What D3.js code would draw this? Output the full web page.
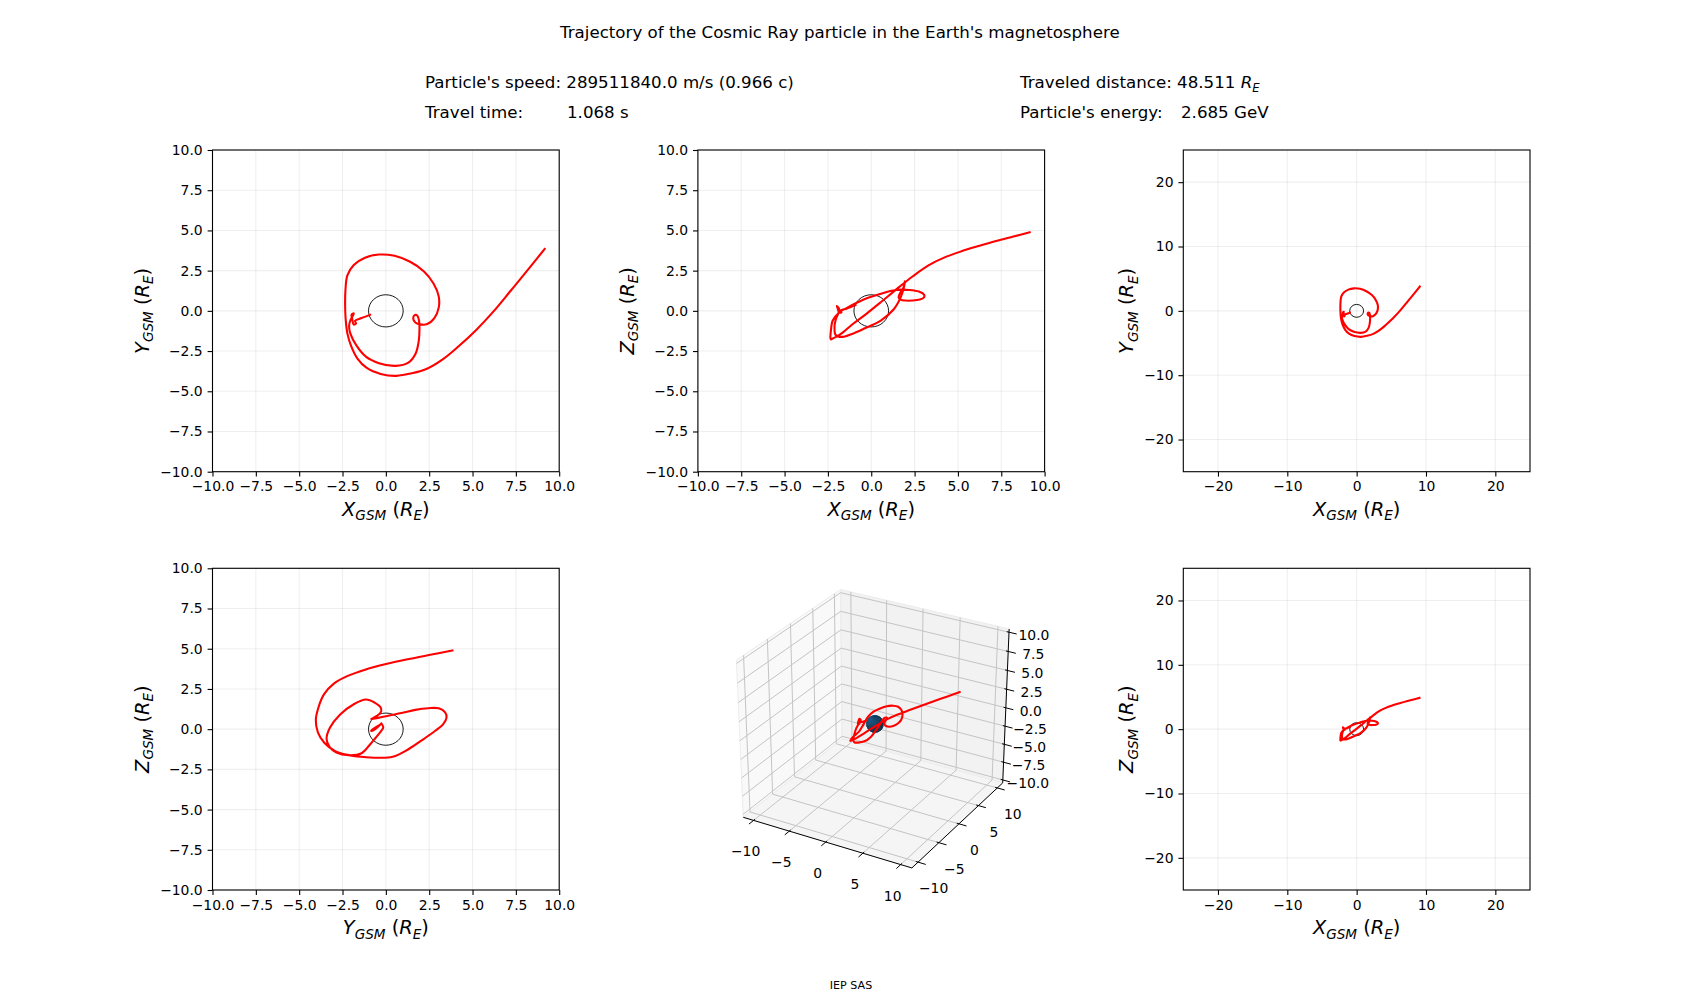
<!DOCTYPE html>
<html><head><meta charset="utf-8">
<script src="https://cdn.jsdelivr.net/npm/d3@7"></script>
<style>
body{margin:0;background:#fff}
svg text{font-family:"DejaVu Sans",sans-serif;fill:#000}
</style></head>
<body><svg id="c" width="1700" height="1000"></svg>
<script>
// ---------------- data ----------------
const trajX=[9.20,8.20,7.20,6.20,5.20,4.20,3.30,2.40,1.50,0.60,-0.30,-1.10,-1.65,-2.00,-2.22,-2.32,-2.35,-2.33,-2.22,-1.85,-1.20,-0.40,0.50,1.40,2.20,2.75,3.05,3.05,2.80,2.35,1.98,1.70,1.58,1.66,1.82,1.92,1.94,1.90,1.72,1.30,0.55,-0.40,-1.15,-1.70,-2.05,-2.12,-2.05,-1.90,-1.85,-1.98,-1.95,-1.85,-1.72,-1.78,-1.40,-0.85];
const trajY=[3.90,2.56,1.25,-0.05,-1.20,-2.20,-3.00,-3.58,-3.88,-4.04,-3.92,-3.55,-2.95,-2.20,-1.40,-0.50,0.40,1.30,2.20,2.85,3.30,3.50,3.42,3.05,2.45,1.70,0.90,0.20,-0.45,-0.84,-0.84,-0.72,-0.48,-0.27,-0.30,-0.65,-1.15,-1.85,-2.65,-3.22,-3.42,-3.25,-2.85,-2.15,-1.40,-0.95,-0.60,-0.30,-0.15,-0.25,-0.45,-0.85,-0.78,-0.62,-0.45,-0.22];
const trajZ=[4.90,4.62,4.34,4.03,3.70,3.31,2.83,2.15,1.38,0.58,-0.20,-0.85,-1.35,-1.60,-1.72,-1.78,-1.72,-1.25,-0.60,-0.10,0.30,0.72,1.05,1.30,1.30,1.20,1.00,0.85,0.70,0.64,0.64,0.70,0.85,1.10,1.35,1.65,1.84,1.55,0.90,0.10,-0.60,-1.10,-1.45,-1.62,-1.50,-1.00,-0.55,-0.15,0.10,0.30,0.20,-0.10,-0.10,0.00,0.15,0.40];
const earthRadius=1;
const limNear=[-10,10], limFar=[-25,25];
const ticksNear=[-10,-7.5,-5,-2.5,0,2.5,5,7.5,10];
const ticksFar=[-20,-10,0,10,20];
const lim3X=[-11,11], lim3Y=[-11,11], lim3Z=[-10,10];
const ticks3XY=[-10,-5,0,5,10];
const ticks3Z=[-10,-7.5,-5,-2.5,0,2.5,5,7.5,10];
const titleText="Trajectory of the Cosmic Ray particle in the Earth's magnetosphere";
const infoSpeed="Particle's speed: 289511840.0 m/s (0.966 c)";
const infoTimeLabel="Travel time:", infoTimeValue="1.068 s";
const infoDistLabel="Traveled distance: 48.511 ";
const infoEnergyLabel="Particle's energy:", infoEnergyValue="2.685 GeV";
const footerText="IEP SAS";

// ---------------- layout ----------------
const svg=d3.select('#c');
const FS_TICK=13.9, FS_LAB=19.4, FS_HEAD=16.67;
const cols=[212.5,697.9,1183.3], rows=[150,568.3], PW=346.7, PH=321.7;
const traj={x:trajX,y:trajY,z:trajZ};
const N=trajX.length;

// header
svg.append('text').attr('x',560).attr('y',38).attr('font-size',FS_HEAD).text(titleText);
svg.append('text').attr('x',425).attr('y',88).attr('font-size',FS_HEAD).text(infoSpeed);
svg.append('text').attr('x',425).attr('y',118).attr('font-size',FS_HEAD).text(infoTimeLabel);
svg.append('text').attr('x',567).attr('y',118).attr('font-size',FS_HEAD).text(infoTimeValue);
const dT=svg.append('text').attr('x',1020).attr('y',88).attr('font-size',FS_HEAD);
dT.append('tspan').text(infoDistLabel);
dT.append('tspan').attr('font-style','italic').text('R');
dT.append('tspan').attr('font-style','italic').attr('font-size',FS_HEAD*0.7).attr('dy',3.5).text('E');
svg.append('text').attr('x',1020).attr('y',118).attr('font-size',FS_HEAD).text(infoEnergyLabel);
svg.append('text').attr('x',1181).attr('y',118).attr('font-size',FS_HEAD).text(infoEnergyValue);
svg.append('text').attr('x',851).attr('y',989).attr('font-size',11.1).attr('text-anchor','middle').text(footerText);

function mathLabel(t,letter,fs){
  const sh=fs*0.22;
  t.append('tspan').attr('font-style','italic').text(letter);
  t.append('tspan').attr('font-style','italic').attr('font-size',fs*0.7).attr('dy',sh).text('GSM');
  t.append('tspan').attr('dy',-sh).text(' (');
  t.append('tspan').attr('font-style','italic').text('R');
  t.append('tspan').attr('font-style','italic').attr('font-size',fs*0.7).attr('dy',sh).text('E');
  t.append('tspan').attr('dy',-sh).text(')');
}

const panels=[
 {c:0,r:0,h:'x',v:'y',lim:limNear,ticks:ticksNear,fmt:d3.format('.1f'),hl:'X',vl:'Y',ylx:-63.5},
 {c:1,r:0,h:'x',v:'z',lim:limNear,ticks:ticksNear,fmt:d3.format('.1f'),hl:'X',vl:'Z',ylx:-64},
 {c:2,r:0,h:'x',v:'y',lim:limFar,ticks:ticksFar,fmt:d3.format('d'),hl:'X',vl:'Y',ylx:-50},
 {c:0,r:1,h:'y',v:'z',lim:limNear,ticks:ticksNear,fmt:d3.format('.1f'),hl:'Y',vl:'Z',ylx:-63.5},
 {c:2,r:1,h:'x',v:'z',lim:limFar,ticks:ticksFar,fmt:d3.format('d'),hl:'X',vl:'Z',ylx:-50},
];

panels.forEach((p,i)=>{
  const L=cols[p.c], T=rows[p.r];
  const xs=d3.scaleLinear().domain(p.lim).range([L,L+PW]);
  const ys=d3.scaleLinear().domain(p.lim).range([T+PH,T]);
  const g=svg.append('g');
  const cid='clip'+i;
  svg.append('clipPath').attr('id',cid).append('rect').attr('x',L).attr('y',T).attr('width',PW).attr('height',PH);
  const gg=g.append('g').attr('stroke','#b0b0b0').attr('stroke-opacity',0.2).attr('stroke-width',1.1);
  p.ticks.forEach(t=>{
    gg.append('line').attr('x1',xs(t)).attr('x2',xs(t)).attr('y1',T).attr('y2',T+PH);
    gg.append('line').attr('y1',ys(t)).attr('y2',ys(t)).attr('x1',L).attr('x2',L+PW);
  });
  g.append('ellipse').attr('cx',xs(0)).attr('cy',ys(0))
    .attr('rx',xs(earthRadius)-xs(0)).attr('ry',ys(0)-ys(earthRadius))
    .attr('fill','none').attr('stroke','#000').attr('stroke-width',0.9);
  const line=d3.line().x(j=>xs(traj[p.h][j])).y(j=>ys(traj[p.v][j])).curve(d3.curveCatmullRom.alpha(0.5));
  g.append('path').attr('d',line(d3.range(N))).attr('fill','none').attr('stroke','#ff0000')
    .attr('stroke-width',2.1).attr('stroke-linejoin','round').attr('clip-path',`url(#${cid})`);
  const ax=g.append('g').attr('transform',`translate(0,${T+PH})`)
    .call(d3.axisBottom(xs).tickValues(p.ticks).tickFormat(p.fmt).tickSize(4.9).tickPadding(4.9));
  const ay=g.append('g').attr('transform',`translate(${L},0)`)
    .call(d3.axisLeft(ys).tickValues(p.ticks).tickFormat(p.fmt).tickSize(4.9).tickPadding(4.9));
  [ax,ay].forEach(a=>{
    a.select('.domain').remove();
    a.attr('font-family',null).attr('font-size',null);
    a.selectAll('line').attr('stroke','#000').attr('stroke-width',1.1);
    a.selectAll('text').attr('font-size',FS_TICK).attr('fill','#000');
  });
  g.append('rect').attr('x',L).attr('y',T).attr('width',PW).attr('height',PH)
    .attr('fill','none').attr('stroke','#000').attr('stroke-width',1.1);
  const xl=g.append('text').attr('x',L+PW/2).attr('y',T+PH+44.3).attr('text-anchor','middle').attr('font-size',FS_LAB);
  mathLabel(xl,p.hl,FS_LAB);
  const yl=g.append('text').attr('transform',`translate(${L+p.ylx},${T+PH/2}) rotate(-90)`)
    .attr('text-anchor','middle').attr('font-size',FS_LAB);
  mathLabel(yl,p.vl,FS_LAB);
});

// ---------------- 3D panel ----------------
function padLim(l){const d=(l[1]-l[0])/48;return [l[0]-d,l[1]+d];}
const X3=padLim(lim3X), Y3=padLim(lim3Y), Z3=padLim(lim3Z);
const elev=30*Math.PI/180, azim=-60*Math.PI/180, DIST=10;
const NV=[Math.cos(elev)*Math.cos(azim),Math.cos(elev)*Math.sin(azim),Math.sin(elev)];
const cross=(a,b)=>[a[1]*b[2]-a[2]*b[1],a[2]*b[0]-a[0]*b[2],a[0]*b[1]-a[1]*b[0]];
const dot=(a,b)=>a[0]*b[0]+a[1]*b[1]+a[2]*b[2];
let UV=cross([0,0,1],NV); const ul=Math.hypot(...UV); UV=UV.map(v=>v/ul);
const VV=cross(NV,UV);
const nx3=d3.scaleLinear().domain(X3).range([-0.5,0.5]);
const ny3=d3.scaleLinear().domain(Y3).range([-0.5,0.5]);
const nz3=d3.scaleLinear().domain(Z3).range([-0.5,0.5]);
const cx3=875, cy3=724, kx3=1946, ky3=1795;
const sx3=d3.scaleLinear().domain([-1,1]).range([cx3-kx3,cx3+kx3]);
const sy3=d3.scaleLinear().domain([-1,1]).range([cy3+ky3,cy3-ky3]);
function P(x,y,z){
  const d=[nx3(x),ny3(y),nz3(z)];
  const dep=DIST-dot(NV,d);
  return [sx3(dot(UV,d)/dep),sy3(dot(VV,d)/dep),dep];
}
const g3=svg.append('g');
const poly=pts=>pts.map(q=>P(...q)).map(s=>s[0]+','+s[1]).join(' ');
const [x0,x1]=X3,[y0,y1]=Y3,[z0,z1]=Z3;
g3.append('polygon').attr('points',poly([[x0,y0,z0],[x0,y1,z0],[x0,y1,z1],[x0,y0,z1]])).attr('fill','#f9f9f9').attr('stroke','#ececec');
g3.append('polygon').attr('points',poly([[x0,y1,z0],[x1,y1,z0],[x1,y1,z1],[x0,y1,z1]])).attr('fill','#f2f2f2').attr('stroke','#ececec');
g3.append('polygon').attr('points',poly([[x0,y0,z0],[x1,y0,z0],[x1,y1,z0],[x0,y1,z0]])).attr('fill','#f5f5f5').attr('stroke','#ececec');
const seg=(a,b,col,w)=>{const p=P(...a),q=P(...b);g3.append('line').attr('x1',p[0]).attr('y1',p[1]).attr('x2',q[0]).attr('y2',q[1]).attr('stroke',col).attr('stroke-width',w);};
const GC='#c4c4c4';
ticks3XY.forEach(t=>{seg([t,y0,z0],[t,y1,z0],GC,1);seg([t,y1,z0],[t,y1,z1],GC,1);});
ticks3XY.forEach(t=>{seg([x0,t,z0],[x1,t,z0],GC,1);seg([x0,t,z0],[x0,t,z1],GC,1);});
ticks3Z.forEach(t=>{seg([x0,y0,t],[x0,y1,t],GC,1);seg([x0,y1,t],[x1,y1,t],GC,1);});
seg([x0,y0,z0],[x1,y0,z0],'#000',1);
seg([x1,y0,z0],[x1,y1,z0],'#000',1);
seg([x1,y1,z0],[x1,y1,z1],'#000',1);
const f3=d3.format('d'), f3z=d3.format('.1f');
ticks3XY.forEach(t=>{
  seg([t,y0+0.3,z0],[t,y0-1.0,z0],'#000',1);
  const p=P(t,y0,z0);
  g3.append('text').attr('x',p[0]-8).attr('y',p[1]+31).attr('text-anchor','middle').attr('dominant-baseline','central').attr('font-size',FS_TICK).text(f3(t));
});
ticks3XY.forEach(t=>{
  seg([x1-0.3,t,z0],[x1+1.0,t,z0],'#000',1);
  const p=P(x1,t,z0);
  g3.append('text').attr('x',p[0]+15.5).attr('y',p[1]+26).attr('text-anchor','middle').attr('dominant-baseline','central').attr('font-size',FS_TICK).text(f3(t));
});
ticks3Z.forEach(t=>{
  seg([x1-0.3,y1,t],[x1+1.0,y1,t],'#000',1);
  const p=P(x1,y1,t);
  g3.append('text').attr('x',p[0]+25).attr('y',p[1]+3).attr('text-anchor','middle').attr('dominant-baseline','central').attr('font-size',FS_TICK).text(f3z(t));
});
// sphere (earth)
const faces=[];
const nu=20,nv=12;
for(let i=0;i<nu;i++)for(let j=0;j<nv;j++){
  const u0=2*Math.PI*i/nu,u1=2*Math.PI*(i+1)/nu,v0=Math.PI*j/nv,v1=Math.PI*(j+1)/nv;
  const sp=(u,v)=>[earthRadius*Math.cos(u)*Math.sin(v),earthRadius*Math.sin(u)*Math.sin(v),earthRadius*Math.cos(v)];
  const c=sp((u0+u1)/2,(v0+v1)/2);
  if(dot(c,NV)<=0) continue;
  const pts=[sp(u0,v0),sp(u1,v0),sp(u1,v1),sp(u0,v1)];
  const light=Math.max(0,dot(c,[-0.55,-0.35,0.76]));
  faces.push({pts,dep:P(...c)[2],light});
}
faces.sort((a,b)=>b.dep-a.dep);
faces.forEach(f=>{
  const k=0.5+0.4*f.light;
  const col=d3.rgb(31*k,119*k,180*k);
  g3.append('polygon').attr('points',poly(f.pts)).attr('fill',col).attr('stroke',col.darker(1.2)).attr('stroke-width',0.5);
});
// trajectory 3D
const line3=d3.line().x(j=>P(trajX[j],trajY[j],trajZ[j])[0]).y(j=>P(trajX[j],trajY[j],trajZ[j])[1]).curve(d3.curveCatmullRom.alpha(0.5));
g3.append('path').attr('d',line3(d3.range(N))).attr('fill','none').attr('stroke','#ff0000').attr('stroke-width',2.1).attr('stroke-linejoin','round');
</script>
</body></html>
